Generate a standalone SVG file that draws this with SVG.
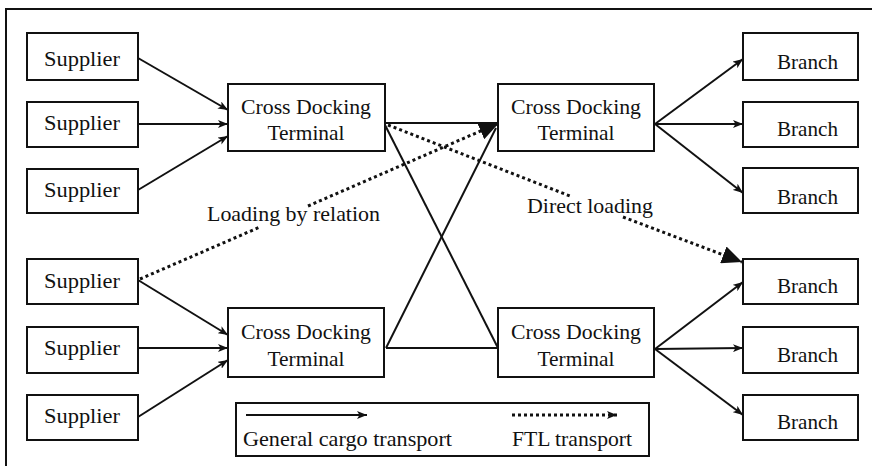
<svg xmlns="http://www.w3.org/2000/svg" width="872" height="466" viewBox="0 0 872 466">
<style>
.box{fill:#fff;stroke:#111;stroke-width:2}
.t{font-family:'Liberation Serif','DejaVu Serif',serif;font-size:21px;fill:#111;text-anchor:middle}
.tl{font-family:'Liberation Serif','DejaVu Serif',serif;font-size:21px;fill:#111}
.ln{stroke:#111;stroke-width:2;fill:none}
.dot{stroke:#111;stroke-width:3;fill:none;stroke-dasharray:3 3}
</style>
<defs>
<marker id="arr" viewBox="0 0 10 8" refX="10" refY="4" markerWidth="10" markerHeight="8" orient="auto" markerUnits="userSpaceOnUse"><path d="M0,0 L10,4 L0,8 L2.5,4 z" fill="#111"/></marker>
<marker id="big" viewBox="0 0 20 18" refX="20" refY="9" markerWidth="20" markerHeight="18" orient="auto" markerUnits="userSpaceOnUse"><path d="M0,0 L20,9 L0,18 z" fill="#111"/></marker>
</defs>
<rect width="872" height="466" fill="#fff"/>
<path d="M6,466 V9 H872" class="ln"/>

<g id="connectors">
<line x1="138" y1="58" x2="228" y2="110" class="ln" marker-end="url(#arr)"/>
<line x1="138" y1="124" x2="228" y2="124" class="ln" marker-end="url(#arr)"/>
<line x1="138" y1="190" x2="228" y2="136" class="ln" marker-end="url(#arr)"/>
<line x1="138" y1="280" x2="228" y2="335" class="ln" marker-end="url(#arr)"/>
<line x1="138" y1="348" x2="228" y2="348" class="ln" marker-end="url(#arr)"/>
<line x1="138" y1="417" x2="228" y2="360" class="ln" marker-end="url(#arr)"/>
<line x1="385" y1="123" x2="498" y2="123" class="ln"/>
<line x1="385" y1="125" x2="498" y2="348" class="ln"/>
<line x1="386" y1="348" x2="496" y2="128" class="ln"/>
<line x1="386" y1="348" x2="498" y2="348" class="ln"/>
<line x1="655" y1="124" x2="743" y2="59" class="ln" marker-end="url(#arr)"/>
<line x1="655" y1="124" x2="743" y2="124" class="ln" marker-end="url(#arr)"/>
<line x1="655" y1="124" x2="743" y2="193" class="ln" marker-end="url(#arr)"/>
<line x1="655" y1="349" x2="743" y2="282" class="ln" marker-end="url(#arr)"/>
<line x1="655" y1="349" x2="743" y2="348" class="ln" marker-end="url(#arr)"/>
<line x1="655" y1="349" x2="743" y2="415" class="ln" marker-end="url(#arr)"/>
<line x1="140" y1="279" x2="260" y2="227" class="dot"/>
<line x1="308" y1="206" x2="499" y2="123" class="dot" marker-end="url(#big)"/>
<line x1="388" y1="125" x2="570" y2="196" class="dot"/>
<line x1="623" y1="217" x2="742" y2="262" class="dot" marker-end="url(#big)"/>
</g>

<g id="supplier1"><rect x="27" y="33" width="111" height="47" class="box"/><text x="82" y="66" class="t" textLength="76" lengthAdjust="spacingAndGlyphs">Supplier</text></g>
<g id="supplier2"><rect x="27" y="102" width="111" height="45" class="box"/><text x="82" y="130" class="t" textLength="76" lengthAdjust="spacingAndGlyphs">Supplier</text></g>
<g id="supplier3"><rect x="27" y="169" width="111" height="44" class="box"/><text x="82" y="197" class="t" textLength="76" lengthAdjust="spacingAndGlyphs">Supplier</text></g>
<g id="supplier4"><rect x="27" y="259" width="111" height="45" class="box"/><text x="82" y="288" class="t" textLength="76" lengthAdjust="spacingAndGlyphs">Supplier</text></g>
<g id="supplier5"><rect x="27" y="327" width="111" height="46" class="box"/><text x="82" y="355" class="t" textLength="76" lengthAdjust="spacingAndGlyphs">Supplier</text></g>
<g id="supplier6"><rect x="27" y="395" width="111" height="45" class="box"/><text x="82" y="423" class="t" textLength="76" lengthAdjust="spacingAndGlyphs">Supplier</text></g>

<g id="cdt1"><rect x="228" y="84" width="157" height="67" class="box"/><text x="306" y="114" class="t" textLength="130" lengthAdjust="spacingAndGlyphs">Cross Docking</text><text x="306" y="140" class="t" textLength="77" lengthAdjust="spacingAndGlyphs">Terminal</text></g>
<g id="cdt2"><rect x="498" y="84" width="156" height="67" class="box"/><text x="576" y="114" class="t" textLength="130" lengthAdjust="spacingAndGlyphs">Cross Docking</text><text x="576" y="140" class="t" textLength="77" lengthAdjust="spacingAndGlyphs">Terminal</text></g>
<g id="cdt3"><rect x="228" y="308" width="156" height="69" class="box"/><text x="306" y="339" class="t" textLength="130" lengthAdjust="spacingAndGlyphs">Cross Docking</text><text x="306" y="366" class="t" textLength="77" lengthAdjust="spacingAndGlyphs">Terminal</text></g>
<g id="cdt4"><rect x="498" y="308" width="156" height="69" class="box"/><text x="576" y="339" class="t" textLength="130" lengthAdjust="spacingAndGlyphs">Cross Docking</text><text x="576" y="366" class="t" textLength="77" lengthAdjust="spacingAndGlyphs">Terminal</text></g>

<g id="branch1"><rect x="743" y="33" width="115" height="47" class="box"/><text x="807.5" y="69" class="t" textLength="61" lengthAdjust="spacingAndGlyphs">Branch</text></g>
<g id="branch2"><rect x="743" y="102" width="115" height="45" class="box"/><text x="807.5" y="136" class="t" textLength="61" lengthAdjust="spacingAndGlyphs">Branch</text></g>
<g id="branch3"><rect x="743" y="168" width="115" height="45" class="box"/><text x="807.5" y="204" class="t" textLength="61" lengthAdjust="spacingAndGlyphs">Branch</text></g>
<g id="branch4"><rect x="743" y="259" width="115" height="45" class="box"/><text x="807.5" y="293" class="t" textLength="61" lengthAdjust="spacingAndGlyphs">Branch</text></g>
<g id="branch5"><rect x="743" y="327" width="115" height="46" class="box"/><text x="807.5" y="362" class="t" textLength="61" lengthAdjust="spacingAndGlyphs">Branch</text></g>
<g id="branch6"><rect x="743" y="395" width="115" height="45" class="box"/><text x="807.5" y="429" class="t" textLength="61" lengthAdjust="spacingAndGlyphs">Branch</text></g>

<g id="labels">
<text x="207" y="221" class="tl" textLength="173" lengthAdjust="spacingAndGlyphs">Loading by relation</text>
<text x="527" y="213" class="tl" textLength="126" lengthAdjust="spacingAndGlyphs">Direct loading</text>
</g>

<g id="legend">
<rect x="236" y="403" width="413" height="53" class="box"/>
<line x1="246" y1="415" x2="367" y2="415" class="ln" marker-end="url(#arr)"/>
<line x1="512" y1="415" x2="617" y2="415" class="dot" marker-end="url(#arr)"/>
<text x="243" y="446" class="tl" textLength="209" lengthAdjust="spacingAndGlyphs">General cargo transport</text>
<text x="512" y="446" class="tl" textLength="120" lengthAdjust="spacingAndGlyphs">FTL transport</text>
</g>
</svg>
